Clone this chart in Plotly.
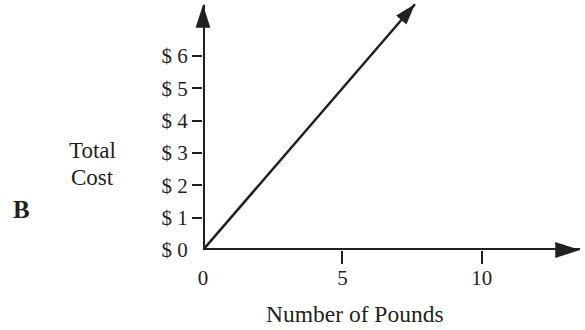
import math
import plotly.graph_objects as go

# data
pounds = [0, 7.6]
total_cost = [0, 7.6]

x_ticks = [0, 5, 10]
x_ticktext = ["0", "5", "10"]
y_ticks = [0, 1, 2, 3, 4, 5, 6]
y_ticktext = ["$ 0", "$ 1", "$ 2", "$ 3", "$ 4", "$ 5", "$ 6"]

# where the axis arrows end, and the visible range around them
x_end, y_end = 13.52, 7.58
x_max, y_max = 13.7, 7.73

ink = "#231f20"
serif = "Liberation Serif"

# plot area in pixels (used to place the side labels)
L, R, T, B = 203, 0, 0, 80
W, H = 585, 330
sx = (W - L - R) / x_max
sy = (H - T - B) / y_max


def px_x(px):
    return (px - L) / (W - L - R)


def px_y(py):
    return (H - B - py) / (H - B - T)


# direction of the cost arrow on screen (degrees clockwise from up)
dx = (pounds[-1] - pounds[-2]) * sx
dy = (total_cost[-1] - total_cost[-2]) * sy
cost_angle = math.degrees(math.atan2(dx, dy))

fig = go.Figure()

# axes
fig.add_trace(go.Scatter(x=[0, x_end], y=[0, 0], mode="lines", cliponaxis=False,
                         line=dict(color=ink, width=4, backoff=10), hoverinfo="skip"))
fig.add_trace(go.Scatter(x=[0, 0], y=[0, y_end], mode="lines", cliponaxis=False,
                         line=dict(color=ink, width=4, backoff=10), hoverinfo="skip"))

# cost line
fig.add_trace(go.Scatter(x=pounds, y=total_cost, mode="lines", cliponaxis=False,
                         line=dict(color=ink, width=2.5, backoff=8)))

# arrow heads
fig.add_trace(go.Scatter(
    x=[x_end, 0, pounds[-1]], y=[0, y_end, total_cost[-1]], mode="markers", cliponaxis=False,
    marker=dict(symbol="arrow", angle=[90, 0, cost_angle], size=[26, 24, 22], color=ink,
                opacity=1, line=dict(width=0)),
    hoverinfo="skip"))

fig.update_layout(
    width=W, height=H,
    margin=dict(l=L, r=R, t=T, b=B, autoexpand=False),
    paper_bgcolor="white", plot_bgcolor="white",
    showlegend=False,
    font=dict(family=serif, color=ink, size=21),
    xaxis=dict(range=[0, x_max], tickvals=x_ticks, ticktext=x_ticktext, automargin=False,
               ticks="outside", ticklen=9, tickcolor="rgba(0,0,0,0)",
               minor=dict(tickvals=[5, 10], ticks="outside", ticklen=13, tickwidth=1.5, tickcolor=ink),
               showgrid=False, zeroline=False, showline=False, tickfont=dict(size=21)),
    yaxis=dict(range=[0, y_max], tickvals=y_ticks, ticktext=y_ticktext, automargin=False,
               ticks="outside", ticklen=10, tickcolor="rgba(0,0,0,0)",
               minor=dict(tickvals=[1, 2, 3, 4, 5, 6], ticks="outside", ticklen=10, tickwidth=1.5, tickcolor=ink),
               showgrid=False, zeroline=False, showline=False, tickfont=dict(size=21)),
    xaxis2=dict(overlaying="x", matches="x", range=[0, x_max], tickvals=[5, 10], ticks="inside",
                ticklen=7, tickwidth=1.5, tickcolor=ink, showticklabels=False, automargin=False,
                showgrid=False, zeroline=False, showline=False),
    yaxis2=dict(overlaying="y", matches="y", range=[0, y_max], tickvals=[1, 2, 3, 4, 5, 6], ticks="inside",
                ticklen=10, tickwidth=1.5, tickcolor=ink, showticklabels=False, automargin=False,
                showgrid=False, zeroline=False, showline=False),
)

fig.add_annotation(text="Total", x=px_x(92), y=px_y(150), xref="paper", yref="paper",
                   showarrow=False, font=dict(size=23), xanchor="center", yanchor="middle")
fig.add_annotation(text="Cost", x=px_x(92), y=px_y(177), xref="paper", yref="paper",
                   showarrow=False, font=dict(size=23), xanchor="center", yanchor="middle")
fig.add_annotation(text="<b>B</b>", x=px_x(21.5), y=px_y(209), xref="paper", yref="paper",
                   showarrow=False, font=dict(size=25), xanchor="center", yanchor="middle")
fig.add_annotation(text="Number of Pounds", x=px_x(355), y=px_y(314), xref="paper", yref="paper",
                   showarrow=False, font=dict(size=23.5), xanchor="center", yanchor="middle")

# drop the default page margin so the figure sits at the window corner
fig.write_html("out.html", config={"displayModeBar": False},
               post_script="document.body.style.margin='0';")
